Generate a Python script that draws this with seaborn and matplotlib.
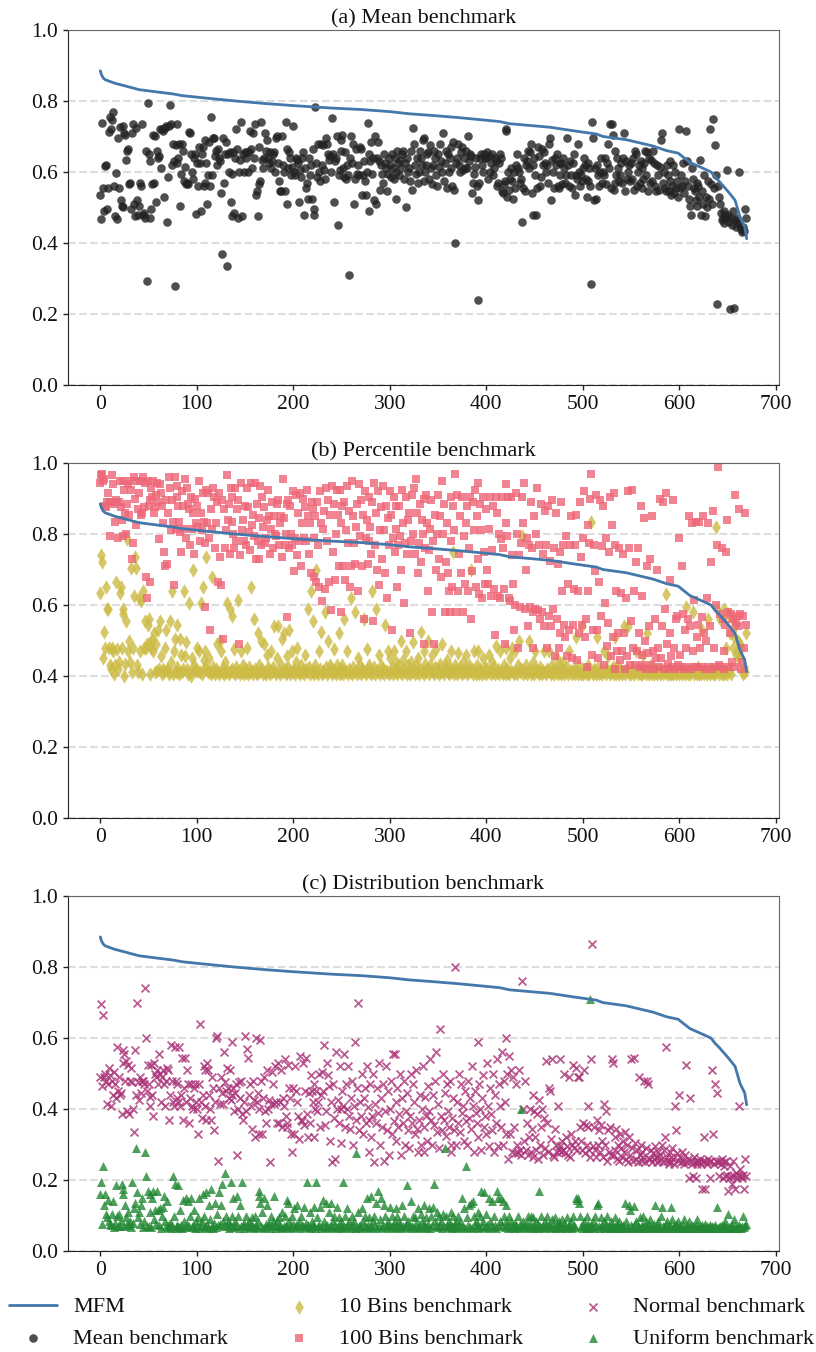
import numpy as np
import pandas as pd
import matplotlib
matplotlib.use('Agg')
import matplotlib.pyplot as plt
import seaborn as sns

# values, y in thousandths, position in the list = rank on the x axis
mfm_x = [0,1,3,5,15,25,40,60,75,85,110,140,170,200,240,270,300,320,345,372,414,424,466,493,514,521,545,573,587,599,611,625,633,637,642,651,658,663,668,670]
mfm_y = [885,875,865,860,850,843,832,825,820,815,808,800,793,787,780,776,770,764,759,753,742,736,726,715,707,700,691,673,660,653,627,610,600,586,572,544,520,473,445,412]

mean_bench = [
535,467,737,556,490,618,620,496,555,712, 755,720,745,768,560,477,598,468,695,555,
728,520,505,500,730,710,705,635,660,665, 565,570,495,710,735,510,475,725,520,480,
505,570,560,735,478,485,470,660,293,795, 650,630,470,495,565,705,570,700,515,660,
640,645,720,610,720,715,530,725,730,458, 585,730,788,735,620,680,630,280,675,735,
625,640,678,505,595,680,660,575,615,565, 570,565,712,710,650,600,580,640,650,482,
625,560,670,625,490,650,670,560,690,570, 625,510,590,685,560,755,590,695,695,645,
660,620,665,640,630,540,370,695,570,650, 685,335,650,600,655,515,595,475,655,485,
640,720,665,470,600,635,740,475,650,600, 655,640,655,600,655,715,665,610,710,640,
735,535,545,475,565,670,575,740,635,610, 640,710,660,690,640,625,655,610,630,650,
655,600,695,700,625,575,545,545,700,620, 600,545,740,510,665,610,655,640,590,615,
730,600,590,640,635,625,515,605,585,640, 655,480,610,555,570,525,640,590,620,525,
665,495,480,783,625,585,680,600,575,680, 620,675,605,580,695,680,650,635,645,600,
753,650,515,630,640,700,450,590,605,660, 690,705,610,585,655,580,620,590,310,640,
700,625,680,510,580,665,595,620,590,670, 665,535,590,630,575,535,600,737,490,650,
630,685,595,640,520,700,510,640,685,630, 550,620,595,570,650,625,610,545,595,640,
620,585,650,610,580,640,525,600,660,625, 590,635,610,650,660,580,625,500,640,600,
610,575,660,550,725,680,620,595,640,570, 600,660,640,620,690,695,575,600,620,650,
655,580,675,610,565,620,660,640,590,560, 650,615,680,630,600,710,575,625,660,555,
650,600,640,670,610,560,685,550,400,625, 640,680,620,600,655,670,605,640,610,660,
610,700,630,650,645,540,570,595,615,640, 560,520,240,570,640,650,620,600,650,640,
640,655,580,645,600,625,650,590,610,640, 630,560,570,625,650,640,545,540,565,575,
720,715,530,600,550,580,610,575,525,600, 555,620,650,610,600,570,580,460,555,640,
545,620,630,660,610,655,680,540,620,480, 640,590,480,555,670,645,560,585,665,620,
655,625,600,620,570,680,695,520,635,600, 555,640,620,650,560,555,590,625,625,565,
640,610,570,590,695,620,560,630,590,555, 625,650,535,590,580,680,600,560,590,575,
610,640,620,580,530,575,625,610,560,283, 740,695,520,610,525,620,590,560,600,640,
570,600,590,640,565,625,680,610,735,555, 735,705,550,570,660,590,640,610,575,590,
625,570,640,710,545,630,580,600,620,575, 625,580,640,550,660,650,560,600,620,570,
630,555,610,580,625,660,590,655,545,640, 570,635,575,660,625,560,545,620,590,550,
615,690,710,570,600,555,545,620,590,545, 630,575,535,560,620,540,600,555,575,530,
720,555,590,560,625,540,575,715,630,560, 525,505,480,610,580,555,545,520,570,505,
560,530,635,480,545,510,590,475,530,500, 575,525,720,565,510,750,555,675,590,227,
560,530,510,485,465,470,490,455,480,470, 605,480,460,213,470,450,490,216,465,445,
470,455,600,450,440,430,445,435,495,470]

ten_bins = [
635,740,720,450,525,480,650,590,590,480, 430,420,480,470,405,430,665,475,420,440,
635,650,480,590,575,400,435,555,785,470, 500,440,705,410,480,625,735,705,430,410,
620,470,610,405,640,480,555,480,490,545, 560,495,405,480,500,470,520,410,490,415,
530,420,555,455,405,420,410,480,530,420, 415,405,555,440,640,405,470,505,410,425,
545,410,405,505,460,410,420,640,455,495, 420,405,605,410,400,450,700,430,420,415,
480,415,470,410,605,405,650,445,470,425, 735,420,410,450,410,405,680,425,415,405,
420,490,410,405,500,470,410,425,405,440, 410,605,415,405,590,415,570,420,410,475,
405,425,410,615,415,405,470,410,430,405, 420,410,480,405,425,410,650,415,405,560,
420,410,405,520,430,410,415,500,420,405, 490,410,405,460,425,415,405,470,410,425,
540,410,405,450,540,415,405,430,505,410, 520,420,405,455,410,425,530,405,415,470,
410,420,405,440,480,410,415,405,430,410, 415,405,460,420,410,590,425,405,640,410,
555,415,405,430,700,410,405,470,420,525, 405,415,410,580,425,405,500,410,430,420,
405,410,475,415,405,430,410,520,405,420, 410,430,405,560,415,410,470,405,420,410,
620,405,425,410,580,415,405,450,410,430, 405,420,415,560,410,405,475,420,410,430,
415,405,640,410,425,405,590,415,410,460, 405,430,410,420,405,545,415,410,470,405,
450,410,425,405,470,420,410,440,405,415, 430,410,500,405,445,420,410,470,405,430,
415,405,440,410,495,420,405,430,410,450, 405,420,525,410,415,405,470,435,410,420,
500,405,430,415,460,410,405,425,475,410, 420,405,435,410,490,415,405,430,420,445,
410,405,425,470,410,415,750,405,430,420, 405,465,410,425,415,405,440,410,420,460,
405,415,430,410,700,420,405,470,415,405, 430,410,470,405,420,415,405,450,410,425,
405,420,410,460,415,405,440,410,425,405, 485,410,420,405,470,415,410,405,430,415,
405,480,420,410,405,450,415,480,410,405, 470,415,405,430,500,410,420,795,405,415,
410,430,405,415,500,420,405,410,440,415, 405,470,420,410,415,405,425,410,405,415,
470,410,405,420,415,470,410,405,430,415, 405,420,410,450,405,415,410,430,405,420,
440,405,415,410,425,405,470,410,415,405, 410,420,405,510,415,405,430,410,405,540,
405,415,410,420,405,430,410,405,415,833, 410,405,420,415,405,510,425,405,410,420,
405,415,470,410,405,420,455,410,405,415, 410,425,405,510,415,405,430,410,405,420,
415,405,410,540,405,420,415,540,405,410, 405,415,420,405,410,470,415,405,420,410,
405,415,405,460,410,420,405,520,415,405, 410,430,405,415,405,420,410,405,415,420,
405,410,415,405,420,410,630,405,415,405, 420,410,405,415,405,410,420,405,410,415,
405,415,410,405,420,410,405,595,415,405, 415,405,410,420,580,405,415,410,405,420,
425,405,415,405,530,410,405,420,415,405, 560,410,405,420,415,405,410,405,820,590,
415,405,560,420,405,410,405,590,415,480, 405,575,415,520,405,560,480,510,540,460,
470,500,450,490,480,415,405,425,410,520]

hundred_bins = [
945,965,970,950,955,880,875,890,915,890, 795,890,965,940,885,835,895,890,790,890,
950,875,840,795,950,925,860,800,885,940, 855,950,925,730,775,960,900,825,950,870,
915,950,855,860,960,875,945,680,620,950, 880,665,895,930,905,950,860,875,910,945,
890,785,940,915,880,830,750,710,895,715, 860,960,930,810,895,835,655,960,815,905,
935,880,835,805,750,920,880,815,955,790, 930,885,870,770,905,815,860,745,900,830,
880,820,950,780,860,810,915,835,775,595, 925,830,915,790,530,870,815,930,905,760,
830,890,665,915,735,655,895,505,870,760, 810,965,840,885,745,930,835,905,800,760,
930,780,870,895,490,740,945,810,840,780, 880,770,930,875,805,755,945,825,855,795,
945,730,885,780,845,730,935,770,905,820, 875,775,790,840,925,850,745,815,890,760,
850,800,795,885,895,770,830,850,735,955, 845,770,800,885,565,895,760,880,800,770,
920,695,790,910,740,860,780,915,710,830, 900,790,875,780,925,850,745,830,690,890,
870,680,790,850,665,890,770,650,920,830, 610,815,865,645,930,780,895,665,855,585,
935,750,885,670,800,925,855,710,925,580, 830,880,710,890,670,810,935,775,865,650,
710,950,850,775,715,820,885,640,940,795, 895,710,855,560,920,790,840,715,905,780,
820,745,890,555,945,770,860,700,920,655, 810,875,730,935,810,690,880,620,845,770,
920,855,530,790,905,750,815,880,650,770, 880,795,700,925,830,605,775,905,745,840,
860,520,780,910,800,930,745,955,860,690, 775,885,720,840,800,490,900,760,910,830,
640,755,815,895,580,780,490,855,700,800, 910,730,850,680,950,800,885,580,720,830,
690,640,580,780,905,650,880,810,970,580, 910,640,745,850,690,905,580,795,660,830,
880,640,760,905,560,695,890,810,925,650, 850,730,945,630,885,810,620,905,750,660,
870,700,660,815,905,625,755,880,645,515, 905,860,625,800,620,785,905,760,645,490,
830,940,795,905,620,610,905,740,660,530, 600,915,800,480,740,595,775,905,830,945,
590,700,790,540,770,595,890,760,480,580, 850,590,800,930,585,770,560,885,580,745,
540,865,770,480,880,570,725,540,895,590, 760,455,860,560,715,480,750,520,890,640,
770,545,510,795,455,660,530,770,850,450, 545,645,770,855,445,640,520,890,735,545,
790,920,510,560,425,825,640,775,900,970, 460,530,770,695,910,530,450,665,895,570,
765,880,430,605,790,485,550,750,905,455, 825,510,915,420,770,640,470,520,760,445,
635,470,745,520,420,620,455,920,760,430, 555,925,480,640,430,720,470,760,520,425,
880,460,625,430,845,500,420,710,465,540, 730,430,850,470,420,560,450,700,480,425,
900,450,540,890,420,590,915,490,435,420, 670,520,455,425,895,480,420,560,570,430,
790,460,425,710,575,420,530,480,425,560, 850,540,420,830,470,615,425,835,510,425,
545,835,480,425,565,850,520,420,500,620, 830,425,540,720,420,865,480,425,600,770,
990,430,575,425,760,560,420,470,545,750, 840,580,425,520,575,440,560,425,910,550,
570,540,870,575,420,440,570,480,860,545]

normal_bench = [
490,695,465,665,490,500,480,415,470,515, 495,410,480,440,505,470,430,575,450,490,
440,445,385,565,530,555,480,535,395,525, 385,480,515,475,400,335,565,440,700,475,
425,490,445,480,480,470,740,600,450,525, 470,410,435,525,440,380,530,500,490,510,
470,555,500,420,490,510,470,410,480,515, 510,370,440,580,480,420,410,575,480,430,
470,420,575,410,440,545,370,460,545,420, 510,470,360,430,470,410,400,460,470,420,
400,330,470,640,420,375,440,520,510,410, 370,530,510,440,400,370,490,460,340,420,
600,605,255,460,415,490,445,415,560,475, 450,515,460,430,510,425,440,590,460,395,
445,470,270,400,475,430,480,385,370,420, 605,395,570,545,440,470,410,345,480,425,
320,600,420,445,330,400,595,480,330,430, 490,395,360,510,400,425,250,415,505,470,
415,520,420,360,530,360,420,510,350,430, 410,540,380,360,350,525,460,430,330,280,
460,330,520,450,420,380,315,550,370,365, 530,355,450,545,385,320,445,360,495,450,
420,470,320,400,450,395,420,500,350,440, 505,450,580,355,395,530,495,465,310,420,
250,470,375,260,560,400,425,360,520,400, 305,450,410,555,350,470,400,520,380,345,
430,480,300,410,590,370,460,700,340,420, 380,500,330,430,460,360,520,405,370,280,
470,320,380,500,250,415,360,460,390,530, 300,430,350,470,255,395,520,340,450,270,
400,480,330,555,365,555,420,310,460,350, 385,500,270,430,360,480,300,395,445,340,
290,380,500,360,470,420,330,510,345,280, 370,440,300,400,520,350,280,435,380,310,
465,395,540,370,300,440,355,480,560,335, 415,290,625,380,340,500,370,445,325,470,
395,350,480,280,300,375,430,340,800,300, 420,360,500,335,470,390,410,310,450,365,
300,480,375,430,345,520,410,280,450,390, 360,590,320,470,400,285,430,495,350,380,
330,530,410,295,460,385,340,500,280,440, 360,540,295,470,410,350,560,300,480,420,
600,330,500,260,550,330,510,280,490,350, 275,470,300,275,510,285,270,760,400,310,
480,285,360,270,320,400,280,345,440,265, 395,320,285,385,260,425,300,350,400,270,
375,290,535,360,280,460,450,315,540,270, 265,345,300,280,410,285,540,295,280,310,
285,500,275,320,295,270,490,265,330,300, 525,290,310,515,285,490,490,350,310,285,
360,510,275,355,300,350,410,285,265,540, 865,295,350,285,265,370,300,340,280,355,
310,265,415,300,395,255,340,280,350,270, 540,530,270,320,285,345,260,300,255,330,
290,265,310,280,335,260,300,250,320,270, 540,290,255,545,305,260,285,250,490,270,
300,255,280,265,480,250,290,480,470,260, 260,285,250,275,260,295,265,250,280,255,
270,260,300,250,285,320,575,265,255,245, 280,250,265,290,260,245,410,340,275,255,
440,265,250,280,255,245,270,525,250,260, 205,430,255,245,210,265,250,205,255,245,
255,250,260,245,175,255,320,175,250,245, 260,250,205,255,510,330,245,470,255,445,
250,210,255,245,260,205,250,240,210,255, 215,170,205,240,210,190,255,210,175,220,
205,215,410,230,210,205,215,175,260,210]

uniform_bench = [
160,195,75,240,130,160,105,95,145,85, 75,72,105,140,68,80,185,100,70,105,
70,85,190,160,175,70,130,95,75,110, 72,85,68,195,78,120,135,290,165,95,
110,75,130,150,68,85,278,212,70,170, 70,160,110,68,150,170,90,115,75,168,
115,72,120,65,100,125,155,85,70,140, 68,75,65,80,70,210,100,190,65,72,
70,185,68,115,72,65,145,85,68,150, 75,140,70,100,150,68,72,115,65,85,
70,95,150,65,72,85,160,100,68,70, 165,75,65,130,90,175,70,65,80,135,
68,105,72,165,75,130,190,85,70,220, 100,72,85,65,75,195,68,100,150,70,
85,72,155,100,65,130,70,195,72,80, 65,100,72,70,85,68,75,95,70,65,
100,72,68,85,170,155,135,70,110,65, 150,68,75,130,72,80,65,100,70,85,
155,72,65,88,70,95,72,68,110,65, 70,100,72,145,68,135,85,70,65,100,
75,120,68,72,130,70,85,65,100,72, 70,125,68,80,195,72,65,110,68,85,
72,125,70,65,195,95,70,72,125,65, 70,145,85,68,135,72,65,110,70,135,
68,85,100,72,65,125,70,95,68,85, 72,65,195,70,100,68,120,72,85,65,
70,100,72,85,65,275,68,110,70,72, 65,120,85,70,100,68,150,72,95,65,
70,155,68,85,100,72,135,65,170,70, 90,150,68,72,130,100,65,72,85,70,
125,68,100,72,65,85,120,70,100,68, 85,72,65,130,70,100,68,75,185,85,
72,65,140,70,100,68,95,80,65,120, 72,68,105,85,70,130,65,72,95,68,
75,120,65,100,72,125,190,85,70,110, 68,100,72,85,65,105,70,290,100,72,
68,85,72,65,110,70,100,68,75,85, 65,100,72,85,68,150,70,120,65,240,
95,72,130,68,135,65,140,100,72,85, 68,110,72,65,100,170,70,85,165,68,
105,72,65,150,85,70,140,68,100,72, 65,170,150,70,85,150,72,140,100,68,
130,85,72,65,100,70,85,68,72,65, 80,72,68,100,65,75,400,70,85,68,
72,65,78,100,68,75,100,70,65,95, 72,68,85,65,75,170,70,100,68,72,
65,85,72,100,68,75,70,65,90,72, 68,95,65,75,70,85,68,72,65,90,
70,68,75,65,95,70,72,68,85,65, 100,72,68,150,145,148,135,100,70,65,
72,85,68,65,100,75,70,65,710,72, 68,85,65,100,72,130,135,70,65,95,
72,68,85,65,75,100,68,70,65,85, 72,68,65,95,70,65,75,68,85,65,
70,68,72,65,135,85,68,65,130,115, 72,68,65,128,75,85,65,70,68,95,
65,72,68,100,65,70,85,68,65,72, 90,70,68,65,75,130,65,72,85,68,
65,100,125,70,68,65,75,85,68,65, 72,65,125,90,68,70,65,75,68,85,
65,70,68,65,72,90,65,68,70,65, 85,68,65,72,70,65,68,72,90,65,
68,65,70,68,72,65,68,75,65,70, 65,68,72,65,70,68,65,72,68,125,
65,68,70,65,72,68,65,70,85,68, 65,105,68,65,70,72,65,90,70,65,
68,65,72,68,65,70,100,68,72,75]

titles = ['(a) Mean benchmark', '(b) Percentile benchmark', '(c) Distribution benchmark']
xticks = [0, 100, 200, 300, 400, 500, 600, 700]
yticks = [0.0, 0.2, 0.4, 0.6, 0.8, 1.0]


def series(vals):
    return pd.DataFrame({'x': np.arange(len(vals)), 'y': np.array(vals) / 1000})


sns.set_style('white')
plt.rcParams['font.family'] = ['Liberation Serif', 'DejaVu Serif']
plt.rcParams['text.color'] = '#111111'
plt.rcParams['axes.titlecolor'] = '#111111'
plt.rcParams['xtick.labelcolor'] = '#111111'
plt.rcParams['ytick.labelcolor'] = '#111111'

fig, axes = plt.subplots(3, 1, figsize=(8.16, 13.52), dpi=100)
fig.subplots_adjust(left=68/816, right=779/816, top=1-30/1352, bottom=1-1251/1352, hspace=78/354)

panels = [
    [(mean_bench, 'Mean benchmark', '#222222', 'o', 38)],
    [(ten_bins, '10 Bins benchmark', '#CCBB44', 'd', 55), (hundred_bins, '100 Bins benchmark', '#EE6677', 's', 38)],
    [(normal_bench, 'Normal benchmark', '#AA3377', 'x', 32), (uniform_bench, 'Uniform benchmark', '#228833', '^', 42)],
]

mfm = pd.DataFrame({'x': mfm_x, 'y': np.array(mfm_y) / 1000})
handles = {}
for ax, title, items in zip(axes, titles, panels):
    for vals, label, col, mk, size in items:
        kw = {'linewidth': 1.3} if mk == 'x' else {'linewidth': 0}
        sns.scatterplot(data=series(vals), x='x', y='y', ax=ax, color=col, marker=mk,
                        s=size, alpha=0.8, label=label, **kw)
    sns.lineplot(data=mfm, x='x', y='y', ax=ax, color='#4477AA', linewidth=2, label='MFM', zorder=5)
    ax.set_xlim(-33.5, 703.5)
    ax.set_ylim(0, 1)
    ax.set_xticks(xticks)
    ax.set_yticks(yticks)
    ax.tick_params(axis='both', labelsize=15.5, length=3.5, width=1, color='#222222', bottom=True, left=True)
    ax.set_xlabel('')
    ax.set_ylabel('')
    ax.set_title(title, fontsize=16, pad=5)
    ax.yaxis.grid(True, linestyle='--', color='#dddddd', linewidth=1.5)
    ax.set_axisbelow(True)
    for side in ['left', 'bottom']:
        ax.spines[side].set_color('#222222')
    for side in ['top', 'right']:
        ax.spines[side].set_color('#666666')
    hs, ls = ax.get_legend_handles_labels()
    handles.update(dict(zip(ls, hs)))
    ax.get_legend().remove()

order = ['MFM', 'Mean benchmark', '10 Bins benchmark', '100 Bins benchmark', 'Normal benchmark', 'Uniform benchmark']
fig.legend([handles[k] for k in order], order, ncol=3, loc='lower left', bbox_to_anchor=(9/816, 3/1352),
           frameon=False, fontsize=16, columnspacing=2.1, handlelength=2.16, handletextpad=0.72,
           labelspacing=0.5, borderpad=0, borderaxespad=0)

fig.savefig('out.png', dpi=100)
